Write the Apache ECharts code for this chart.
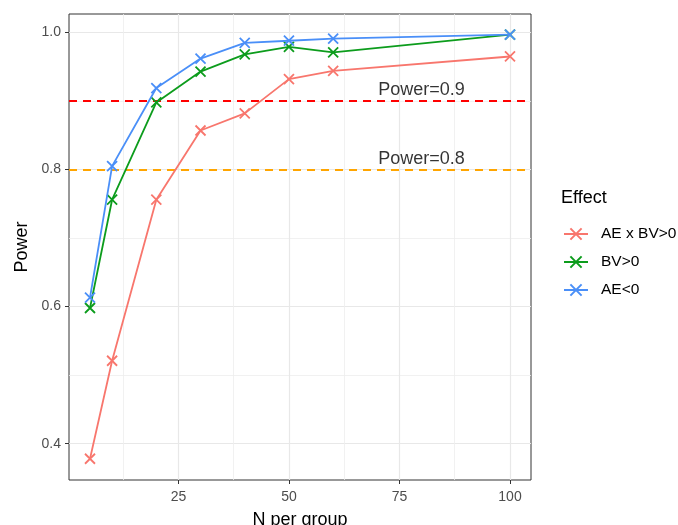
<!DOCTYPE html>
<html>
<head>
<meta charset="utf-8">
<script src="https://cdn.jsdelivr.net/npm/echarts@6/dist/echarts.min.js"></script>
<style>html,body{margin:0;padding:0;background:#fff}#c{width:678px;height:525px}</style>
</head>
<body>
<div id="c"></div>
<script>
// ---- data ----
const nPerGroup = [5, 10, 20, 30, 40, 50, 60, 100];
const seriesNames = ['AE x BV>0', 'BV>0', 'AE<0'];
const powerAExBV = [0.378, 0.521, 0.756, 0.857, 0.882, 0.932, 0.944, 0.965];
const powerBV    = [0.598, 0.756, 0.898, 0.943, 0.968, 0.979, 0.971, 0.997];
const powerAE    = [0.613, 0.805, 0.919, 0.962, 0.985, 0.988, 0.991, 0.997];
const seriesColors = ['#F8766D', '#0C9C1C', '#4A8FF8'];
const xTicks = [25, 50, 75, 100];
const xMinorTicks = [12.5, 37.5, 62.5, 87.5];
const yTicks = [0.4, 0.6, 0.8, 1.0];
const yMinorTicks = [0.5, 0.7, 0.9];
const refLines = [0.9, 0.8];
const refLineColors = ['#FF0000', '#FFA500'];
const annotX = [80, 80];
const annotY = [0.92, 0.82];
const annotText = ['Power=0.9', 'Power=0.8'];

const FONT = '"Liberation Sans", Arial, Helvetica, sans-serif';
const xMin = 0.25, xMax = 104.75, yMin = 0.347, yMax = 1.027;
const X = 'path://M0,0L10,10M10,0L0,10';

const chart = echarts.init(document.getElementById('c'), null, {renderer: 'canvas'});

const allVals = [powerAExBV, powerBV, powerAE];
const lineSeries = seriesNames.map((name, i) => ({
  name: name,
  type: 'line',
  xAxisIndex: 0, yAxisIndex: 0,
  data: nPerGroup.map((x, j) => [x, allVals[i][j]]),
  symbol: X,
  symbolSize: 10,
  showSymbol: true,
  lineStyle: {color: seriesColors[i], width: 1.8},
  itemStyle: {color: 'rgba(0,0,0,0)', borderColor: seriesColors[i], borderWidth: 1.8},
  emphasis: {disabled: true},
  animation: false,
  z: 5 + i
}));

lineSeries[0].markLine = {
  symbol: 'none',
  silent: true,
  animation: false,
  label: {show: false},
  data: refLines.map((v, i) => ({yAxis: v, lineStyle: {color: refLineColors[i], type: [8, 6], width: 1.8}}))
};

const annotSeries = {
  type: 'scatter',
  xAxisIndex: 0, yAxisIndex: 0,
  data: annotX.map((x, i) => [x, annotY[i], annotText[i]]),
  symbolSize: 0,
  silent: true,
  animation: false,
  label: {
    show: true, position: 'inside', offset: [0, 3],
    formatter: p => p.data[2],
    fontFamily: FONT, fontSize: 18, color: '#000'
  }
};

const commonHidden = {
  axisLine: {show: false}, axisTick: {show: false}, axisLabel: {show: false}
};

const option = {
  animation: false,
  backgroundColor: '#fff',
  title: {
    text: 'Effect', left: 561, top: 189, padding: 0,
    textStyle: {fontFamily: FONT, fontSize: 18, fontWeight: 'normal', color: '#000'}
  },
  legend: {
    orient: 'vertical',
    left: 563, top: 226, padding: 0,
    itemWidth: 24, itemHeight: 14, itemGap: 12,
    data: seriesNames,
    textStyle: {fontFamily: FONT, fontSize: 15.5, color: '#000', padding: [0, 0, 0, 8]},
    selectedMode: false
  },
  grid: {
    left: 69, top: 14, right: 147, bottom: 45,
    outerBoundsMode: 'none', containLabel: false,
    show: true, borderColor: '#333333', borderWidth: 1, backgroundColor: 'transparent'
  },
  xAxis: [
    {
      type: 'value', min: xMin, max: xMax,
      name: 'N per group', nameLocation: 'middle', nameGap: 31,
      nameTextStyle: {fontFamily: FONT, fontSize: 18, color: '#000'},
      axisLine: {show: false},
      axisTick: {show: true, inside: false, length: 4, lineStyle: {color: '#333333', width: 1}, customValues: xTicks},
      axisLabel: {show: true, customValues: xTicks, margin: 10, fontFamily: FONT, fontSize: 14, color: '#4D4D4D'},
      splitLine: {show: true, lineStyle: {color: '#E8E8E8', width: 1.2}}
    },
    Object.assign({
      type: 'value', min: xMin, max: xMax, gridIndex: 0, position: 'bottom',
      splitLine: {show: true, lineStyle: {color: '#EEEEEE', width: 0.8}}
    }, commonHidden, {axisTick: {show: false, customValues: xMinorTicks}})
  ],
  yAxis: [
    {
      type: 'value', min: yMin, max: yMax,
      name: 'Power', nameLocation: 'middle', nameGap: 31, nameRotate: 90,
      nameTextStyle: {fontFamily: FONT, fontSize: 18, color: '#000'},
      axisLine: {show: false},
      axisTick: {show: true, inside: false, length: 4, lineStyle: {color: '#333333', width: 1}, customValues: yTicks},
      axisLabel: {show: true, customValues: yTicks, margin: 8, fontFamily: FONT, fontSize: 14, color: '#4D4D4D',
        formatter: v => v.toFixed(1)},
      splitLine: {show: true, lineStyle: {color: '#E8E8E8', width: 1.2}}
    },
    Object.assign({
      type: 'value', min: yMin, max: yMax, gridIndex: 0, position: 'left',
      splitLine: {show: true, lineStyle: {color: '#EEEEEE', width: 0.8}}
    }, commonHidden, {axisTick: {show: false, customValues: yMinorTicks}})
  ],
  series: lineSeries.concat([annotSeries])
};
chart.setOption(option);
</script>
</body>
</html>
